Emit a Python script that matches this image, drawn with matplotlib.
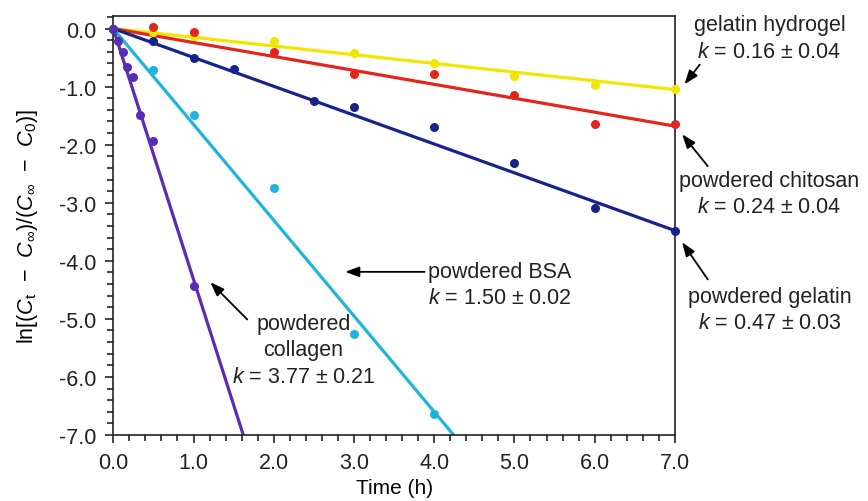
import matplotlib
matplotlib.use("Agg")
import matplotlib.pyplot as plt
from matplotlib.ticker import MultipleLocator, FormatStrFormatter

plt.rcParams["font.family"] = ["Liberation Sans", "DejaVu Sans"]
plt.rcParams["mathtext.fontset"] = "custom"
plt.rcParams["mathtext.rm"] = "Liberation Sans"
plt.rcParams["mathtext.it"] = "Liberation Sans:italic"

# measured points, ln[(Ct - Cinf)/(Cinf - C0)] vs time (h)
hydrogel_t = [0, 0.5, 1, 2, 3, 4, 5, 6, 7]
hydrogel_y = [0, -0.06, -0.12, -0.22, -0.42, -0.60, -0.81, -0.98, -1.04]
chitosan_t = [0, 0.5, 1, 2, 3, 4, 5, 6, 7]
chitosan_y = [0, 0.02, -0.06, -0.41, -0.79, -0.78, -1.15, -1.64, -1.64]
gelatin_t = [0, 0.5, 1, 1.5, 2.5, 3, 4, 5, 6, 7]
gelatin_y = [0, -0.22, -0.50, -0.70, -1.24, -1.35, -1.70, -2.31, -3.09, -3.48]
bsa_t = [0, 0.5, 1, 2, 3, 4]
bsa_y = [0, -0.72, -1.48, -2.75, -5.26, -6.64]
collagen_t = [0, 0.06, 0.12, 0.17, 0.25, 0.33, 0.5, 1.0]
collagen_y = [0, -0.22, -0.41, -0.66, -0.84, -1.48, -1.93, -4.43]

# slopes of the drawn fit lines
fit_slopes = [-0.15, -0.24, -0.497, -1.65, -4.32]
colors = ["#f2e600", "#e3261b", "#17238c", "#1fb4dc", "#5a2bb5"]

labels = [
    "gelatin hydrogel\n$k$ = 0.16 ± 0.04",
    "powdered chitosan\n$k$ = 0.24 ± 0.04",
    "powdered gelatin\n$k$ = 0.47 ± 0.03",
    "powdered BSA\n$k$ = 1.50 ± 0.02",
    "powdered\ncollagen\n$k$ = 3.77 ± 0.21",
]

series = [
    (hydrogel_t, hydrogel_y),
    (chitosan_t, chitosan_y),
    (gelatin_t, gelatin_y),
    (bsa_t, bsa_y),
    (collagen_t, collagen_y),
]

fig = plt.figure(figsize=(8.68, 5.02), dpi=100)
ax = fig.add_axes([0.1305, 0.1315, 0.647, 0.835])

for (t, y), k, c in zip(series, fit_slopes, colors):
    ax.plot([0, 7], [0, 7 * k], color=c, lw=2.3, zorder=2)
    ax.plot(t, y, "o", color=c, ms=6.5, mec="none", zorder=3, clip_on=False)

ax.set_xlim(0, 7)
ax.set_ylim(-7, 0.22)
ax.xaxis.set_major_locator(MultipleLocator(1))
ax.xaxis.set_minor_locator(MultipleLocator(0.2))
ax.yaxis.set_major_locator(MultipleLocator(1))
ax.yaxis.set_minor_locator(MultipleLocator(0.2))
ax.xaxis.set_major_formatter(FormatStrFormatter("%.1f"))
ax.yaxis.set_major_formatter(FormatStrFormatter("%.1f"))
ax.tick_params(which="both", direction="out", top=False, right=False,
               labelsize=15.5, colors="#222222", width=1.2)
ax.tick_params(which="major", length=6, pad=6)
ax.tick_params(which="minor", length=4)
for s in ax.spines.values():
    s.set_linewidth(1.2)
    s.set_color("#222222")

ax.set_xlabel("Time (h)", fontsize=15, labelpad=4)
ax.set_ylabel(r"ln[($C_\mathrm{t}$  $-$  $C_\infty$)/($C_\infty$  $-$  $C_0$)]",
              fontsize=15.5, labelpad=14)

txt = dict(fontsize=15.5, ha="center", va="center", color="#222222",
           clip_on=False, linespacing=1.35)
arr = dict(arrowstyle="-|>,head_length=0.6,head_width=0.22", color="black",
           lw=1.3, mutation_scale=14, shrinkA=0, shrinkB=0)

# text centres (data coords) and arrows as (tail, head)
text_pos = [(8.18, -0.16), (8.18, -2.84), (8.18, -4.84), (4.82, -4.41), (2.37, -5.53)]
arrows = [
    ((7.31, -0.62), (7.12, -0.96)),
    ((7.41, -2.37), (7.09, -1.82)),
    ((7.41, -4.32), (7.09, -3.68)),
    ((3.88, -4.19), (2.89, -4.19)),
    ((1.67, -5.01), (1.21, -4.37)),
]

for lab, (tx, ty), (tail, head) in zip(labels, text_pos, arrows):
    ax.text(tx, ty, lab, **txt)
    ax.annotate("", xy=head, xytext=tail, arrowprops=arr, annotation_clip=False)

fig.savefig("out.png", dpi=100)
